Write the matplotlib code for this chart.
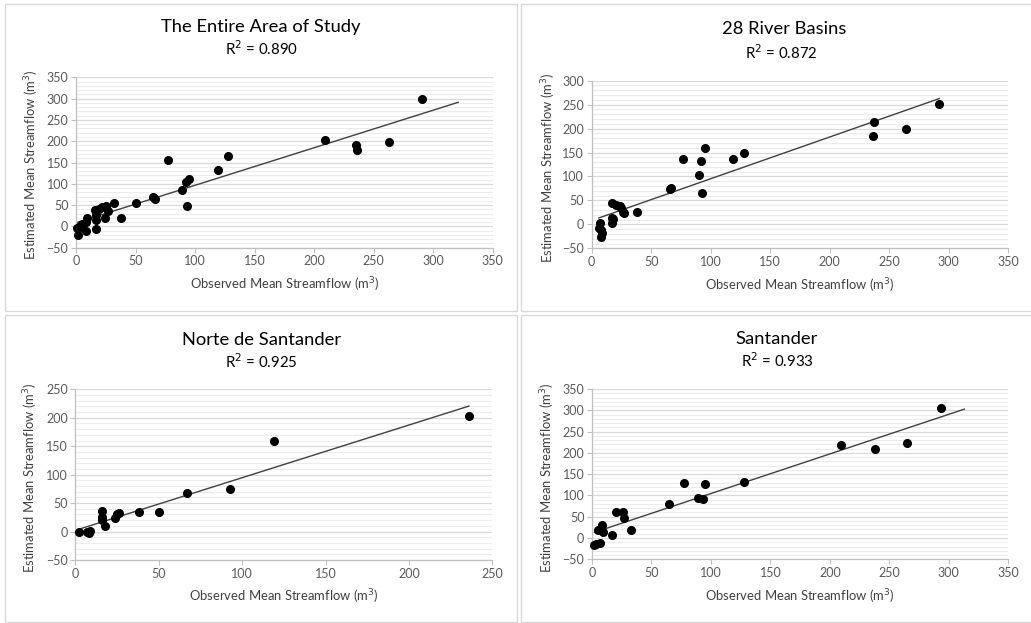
import matplotlib
matplotlib.use("Agg")
import matplotlib.pyplot as plt
from matplotlib.patches import Rectangle
from matplotlib.ticker import MultipleLocator
import numpy as np

plt.rcParams['font.family'] = ['Lato', 'DejaVu Sans']

# ---------------- data ----------------
titles = ["The Entire Area of Study", "28 River Basins", "Norte de Santander", "Santander"]
r2_labels = ["0.890", "0.872", "0.925", "0.933"]

entire_obs = [1, 2, 3, 5, 5, 8, 9, 8, 17, 16, 17, 17, 19, 22, 25, 24, 27, 32, 38, 50,
              65, 66, 77, 89, 92, 95, 93, 119, 128, 209, 235, 236, 263, 291]
entire_est = [-3, -21, 1, 6, -1, -10, 19, 11, -7, 38, 27, 16, 42, 45, 47, 19, 36, 56, 19, 54,
              69, 64, 157, 86, 104, 112, 49, 132, 165, 202, 192, 179, 197, 300]

basins_obs = [7, 6, 8, 9, 8, 17, 18, 17, 17, 20, 24, 25, 26, 27, 38, 66, 67, 77, 90, 92,
              93, 95, 119, 128, 236, 237, 264, 292]
basins_est = [2, -8, -12, -19, -26, 13, 12, 2, 44, 40, 38, 34, 25, 24, 26, 74, 75, 137, 104, 133,
              66, 159, 137, 150, 184, 213, 200, 251]

norte_obs = [2, 7, 8, 9, 16, 16, 16, 18, 24, 25, 26, 38, 50, 67, 93, 119, 236]
norte_est = [0, -1, -2, 1, 36, 26, 20, 9, 23, 30, 33, 34, 34, 68, 74, 160, 203]

sant_obs = [2, 3, 7, 5, 8, 9, 7, 17, 20, 26, 27, 33, 65, 77, 89, 93, 95, 128, 209, 238, 265, 293]
sant_est = [-17, -13, -11, 19, 31, 15, 22, 7, 62, 60, 46, 19, 79, 129, 95, 92, 127, 131, 219, 209, 222, 305]

# trend line forward extension (x units beyond max observed)
trend_forward = [30, 0, 0, 20]

xlims = [(0, 350), (0, 350), (0, 250), (0, 350)]
ylims = [(-50, 350), (-50, 300), (-50, 250), (-50, 350)]

# ---------------- layout ----------------
W, H = 1031, 623
fig = plt.figure(figsize=(W / 100, H / 100), dpi=100)

def fx(px):
    return px / W

def fy(py):
    return 1 - py / H

# panel frames (pixel boxes: x0, y0, x1, y1)
frames = [(5, 4, 517, 311), (521, 4, 1035, 311), (5, 315, 517, 622), (521, 315, 1035, 622)]
for (x0, y0, x1, y1) in frames:
    fig.patches.append(Rectangle((fx(x0), fy(y1)), fx(x1 - x0), (y1 - y0) / H,
                                 transform=fig.transFigure, fill=False,
                                 edgecolor="#d9d9d9", linewidth=1.0))

# axes pixel boxes: left, top, right, bottom
axboxes = [(76, 77.3, 492.7, 247.7), (591.7, 80.7, 1008.3, 248.3),
           (75.3, 389.3, 492.3, 560.0), (592, 389, 1008.3, 559.3)]
title_pos = [(261, 27), (784, 29), (261, 340), (777, 339)]
r2_pos = [(261, 49), (781, 53), (261, 362), (777, 361)]
xlabel_pos = [(285, 285), (800, 286), (284, 597), (800, 597)]
ylabel_pos = [(32, 165), (549, 168), (31, 478), (548, 478)]

series = [(entire_obs, entire_est), (basins_obs, basins_est),
          (norte_obs, norte_est), (sant_obs, sant_est)]

tick_color = "#595959"
for i in range(4):
    l, t, r, b = axboxes[i]
    ax = fig.add_axes([fx(l), fy(b), (r - l) / W, (b - t) / H])
    xo = np.array(series[i][0], dtype=float)
    ye = np.array(series[i][1], dtype=float)

    ax.set_xlim(*xlims[i])
    ax.set_ylim(*ylims[i])
    ax.xaxis.set_major_locator(MultipleLocator(50))
    ax.yaxis.set_major_locator(MultipleLocator(50))
    ax.yaxis.set_minor_locator(MultipleLocator(10))
    ax.grid(axis="y", which="major", color="#d9d9d9", linewidth=0.9)
    ax.grid(axis="y", which="minor", color="#ececec", linewidth=0.8)
    ax.set_axisbelow(True)
    for s in ["top", "right"]:
        ax.spines[s].set_visible(False)
    for s in ["left", "bottom"]:
        ax.spines[s].set_color("#bfbfbf")
        ax.spines[s].set_linewidth(0.9)
    ax.tick_params(axis="both", which="major", direction="out", length=3.5,
                   color="#bfbfbf", labelcolor=tick_color, labelsize=9, pad=2)
    ax.tick_params(axis="y", which="minor", length=0)

    # trend line
    k, c = np.polyfit(xo, ye, 1)
    xl = np.array([xo.min(), xo.max() + trend_forward[i]])
    ax.plot(xl, k * xl + c, color="#404040", linewidth=1.0, zorder=2)

    ax.plot(xo, ye, "o", color="black", markersize=5.5, zorder=3, clip_on=False)

    fig.text(fx(title_pos[i][0]), fy(title_pos[i][1]), titles[i], ha="center", va="center",
             fontsize=13.2, color="black")
    fig.text(fx(r2_pos[i][0]), fy(r2_pos[i][1]), "R$^2$ = " + r2_labels[i], ha="center",
             va="center", fontsize=10.8, color="black")
    fig.text(fx(xlabel_pos[i][0]), fy(xlabel_pos[i][1]), "Observed Mean Streamflow (m$^3$)",
             ha="center", va="center", fontsize=9.4, color="#404040")
    fig.text(fx(ylabel_pos[i][0]), fy(ylabel_pos[i][1]), "Estimated Mean Streamflow (m$^3$)",
             ha="center", va="center", fontsize=9.4, color="#404040", rotation=90)

fig.savefig("out.png", dpi=100)
